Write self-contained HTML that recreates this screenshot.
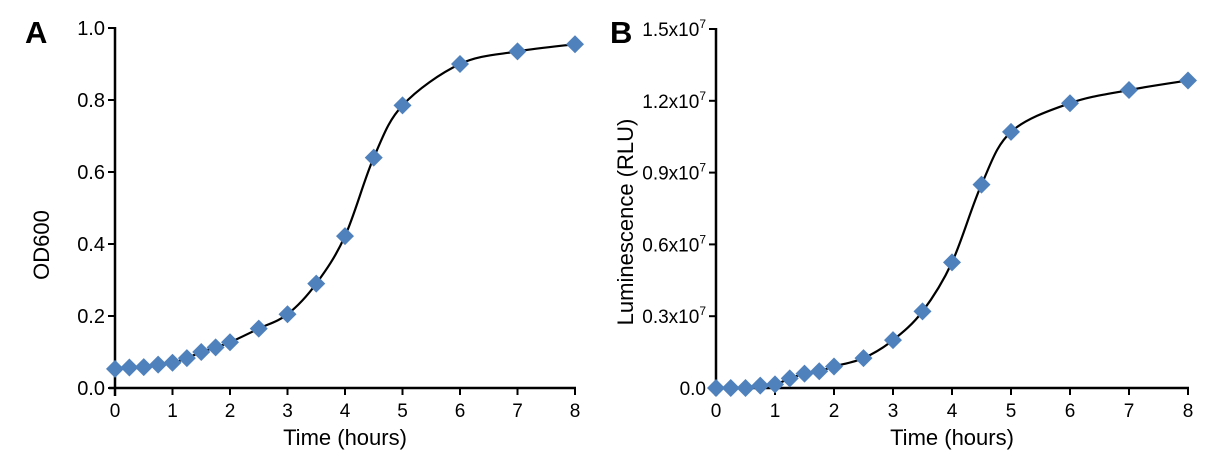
<!DOCTYPE html>
<html><head><meta charset="utf-8"><style>
html,body{margin:0;padding:0;background:#fff;}
svg{display:block;font-family:"Liberation Sans",Arial,sans-serif;}
</style></head><body>
<svg id="s" width="1212" height="462" viewBox="0 0 1212 462" xmlns="http://www.w3.org/2000/svg">
<text x="25" y="43" font-size="31" font-weight="bold">A</text>
<text x="610" y="43" font-size="31" font-weight="bold">B</text>
<text transform="translate(49,245) rotate(-90)" font-size="22" text-anchor="middle">OD600</text>
<text transform="translate(633,222) rotate(-90)" font-size="22" text-anchor="middle">Luminescence (RLU)</text>
<text x="345" y="445" font-size="22" text-anchor="middle">Time (hours)</text>
<text x="952" y="445" font-size="22" text-anchor="middle">Time (hours)</text>
<g id="g"></g>
</svg>
<script>
var NS="http://www.w3.org/2000/svg",g=document.getElementById('g');
function el(t,a,txt){var e=document.createElementNS(NS,t);for(var k in a)e.setAttribute(k,a[k]);if(txt!=null)e.textContent=txt;g.appendChild(e);return e;}
function panel(o){
 var X=function(t){return o.x0+t*o.dx;},Y=function(v){return o.y0-(v/o.ymax)*(o.y0-o.y1);};
 el('line',{x1:o.x0,y1:o.y1-1,x2:o.x0,y2:o.y0+8,stroke:'#000','stroke-width':2.5});
 el('line',{x1:o.x0-6,y1:o.y0,x2:X(8)+1,y2:o.y0,stroke:'#000','stroke-width':2.5});
 for(var i=0;i<=8;i++){el('line',{x1:X(i),y1:o.y0,x2:X(i),y2:o.y0+7,stroke:'#000','stroke-width':2});
  el('text',{x:X(i),y:o.y0+29,'font-size':19,'text-anchor':'middle'},String(i));}
 o.ticks.forEach(function(t){var y=Y(t[0]);el('line',{x1:o.x0-7,y1:y,x2:o.x0,y2:y,stroke:'#000','stroke-width':2});
  var tx=el('text',{x:o.x0-10,y:y+7,'font-size':o.fs,'text-anchor':'end'});
  if(t[2]){tx.textContent=t[1];var ts=document.createElementNS(NS,'tspan');ts.setAttribute('dy','-8');ts.setAttribute('font-size','12');ts.textContent='7';tx.appendChild(ts);}
  else tx.textContent=t[1];});
 var p=o.d.map(function(d){return [X(d[0]),Y(d[1])];});
 var s='M'+p[0][0]+','+p[0][1];
 for(var i=0;i<p.length-1;i++){var a=p[Math.max(i-1,0)],b=p[i],c=p[i+1],d=p[Math.min(i+2,p.length-1)];
  s+=' C'+(b[0]+(c[0]-a[0])/6)+','+(b[1]+(c[1]-a[1])/6)+' '+(c[0]-(d[0]-b[0])/6)+','+(c[1]-(d[1]-b[1])/6)+' '+c[0]+','+c[1];}
 el('path',{d:s,fill:'none',stroke:'#000','stroke-width':2.2});
 p.forEach(function(q){el('path',{d:'M'+q[0]+','+(q[1]-9)+' L'+(q[0]+9)+','+q[1]+' L'+q[0]+','+(q[1]+9)+' L'+(q[0]-9)+','+q[1]+'Z',fill:'#4f81bd'});});
}
panel({x0:115,dx:57.5,y0:388,y1:28,ymax:1,fs:20,
 ticks:[[0,'0.0'],[0.2,'0.2'],[0.4,'0.4'],[0.6,'0.6'],[0.8,'0.8'],[1,'1.0']],
 d:[[0,.053],[.25,.057],[.5,.058],[.75,.065],[1,.07],[1.25,.083],[1.5,.1],[1.75,.113],[2,.127],[2.5,.165],[3,.205],[3.5,.29],[4,.422],[4.5,.64],[5,.785],[6,.9],[7,.935],[8,.955]]});
panel({x0:716,dx:59,y0:388,y1:29,ymax:1.5,fs:19,
 ticks:[[0,'0.0'],[0.3,'0.3x10',1],[0.6,'0.6x10',1],[0.9,'0.9x10',1],[1.2,'1.2x10',1],[1.5,'1.5x10',1]],
 d:[[0,0],[.25,0],[.5,0],[.75,.01],[1,.015],[1.25,.04],[1.5,.06],[1.75,.07],[2,.09],[2.5,.125],[3,.2],[3.5,.32],[4,.525],[4.5,.85],[5,1.07],[6,1.19],[7,1.245],[8,1.285]]});
</script>
</body></html>
